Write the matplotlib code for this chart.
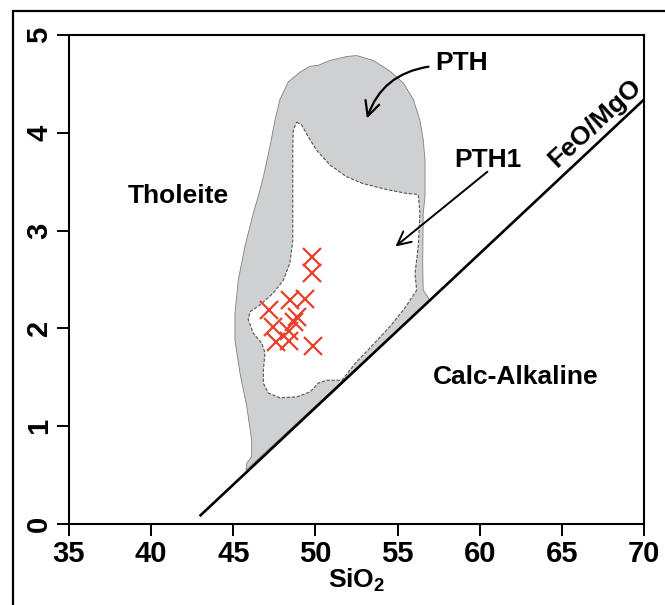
import matplotlib
matplotlib.use("Agg")
import matplotlib.pyplot as plt
from matplotlib.patches import Polygon, Rectangle

plt.rcParams['mathtext.fontset'] = 'custom'
plt.rcParams['mathtext.rm'] = 'Liberation Sans:bold'

# ---------------- data ----------------
# sample points (SiO2, FeO/MgO)
sio2 = [49.79, 49.79, 48.45, 49.36, 47.20, 48.88, 48.69, 47.42, 48.39, 47.60, 48.39, 49.85]
feo_mgo = [2.73, 2.57, 2.29, 2.30, 2.19, 2.12, 2.07, 2.01, 1.97, 1.86, 1.87, 1.82]

# Tholeiite / Calc-alkaline divider (SiO2, FeO/MgO)
div_x = [42.95, 70.0]
div_y = [0.08, 4.34]

# PTH field outline
pth_x = [45.77, 45.82, 46.12, 46.12, 45.82, 45.41, 45.10, 45.10, 45.30, 45.71,
         46.22, 46.52, 46.83, 47.23, 47.54, 47.84, 48.35, 49.06, 49.67, 50.17,
         50.89, 51.90, 52.51, 53.52, 54.54, 55.35, 55.96, 56.36, 56.56, 56.67,
         56.67, 56.56, 56.53, 56.56, 56.97]
pth_y = [0.55, 0.62, 0.69, 0.86, 1.20, 1.54, 1.88, 2.15, 2.49, 2.84,
         3.18, 3.35, 3.55, 3.86, 4.13, 4.34, 4.52, 4.62, 4.68, 4.69,
         4.74, 4.78, 4.79, 4.74, 4.63, 4.51, 4.34, 4.13, 3.93, 3.72,
         3.35, 3.18, 2.67, 2.39, 2.29]

# PTH1 field outline
pth1_x = [48.86, 49.16, 49.56, 50.08, 50.89, 51.90, 52.91, 54.34, 55.55, 56.26,
          56.36, 56.26, 56.06, 56.16, 55.45, 54.54, 53.32, 52.51, 51.80, 51.60,
          50.68, 50.17, 49.67, 48.86, 47.84, 47.13, 46.83, 46.83, 46.93, 46.73,
          46.22, 45.91, 46.02, 46.63, 47.43, 48.04, 48.45, 48.62, 48.62, 48.62,
          48.65]
pth1_y = [4.11, 4.08, 3.96, 3.82, 3.67, 3.55, 3.48, 3.42, 3.38, 3.37,
          3.18, 2.84, 2.56, 2.39, 2.21, 2.02, 1.80, 1.66, 1.51, 1.47,
          1.47, 1.44, 1.35, 1.30, 1.29, 1.34, 1.44, 1.57, 1.75, 1.85,
          1.95, 2.09, 2.17, 2.24, 2.36, 2.49, 2.67, 2.90, 3.31, 3.82,
          4.03]

x_ticks = [35, 40, 45, 50, 55, 60, 65, 70]
y_ticks = [0, 1, 2, 3, 4, 5]

# ---------------- figure ----------------
TICKFONT = ['Liberation Sans', 'DejaVu Sans']
LABFONT = ['Liberation Sans', 'DejaVu Sans']

fig = plt.figure(figsize=(6.65, 6.05), dpi=100)
ax = fig.add_axes([69/665, 1-524/605, (644-69)/665, (524-35)/605])

ax.add_patch(Polygon(list(zip(pth_x, pth_y)), closed=True, facecolor='#cfd0d2',
                     edgecolor='#808080', lw=0.6, zorder=1))
ax.add_patch(Polygon(list(zip(pth1_x, pth1_y)), closed=True, facecolor='white',
                     edgecolor='#555555', lw=0.8, linestyle=(0, (3, 1.5)), zorder=2))

ax.plot(div_x, div_y, color='black', lw=1.9, zorder=3, solid_capstyle='butt')

ax.plot(sio2, feo_mgo, linestyle='none', marker='x', markersize=13,
        markeredgewidth=1.6, color='#e8402a', zorder=4)

ax.set_xlim(35, 70)
ax.set_ylim(0, 5)
ax.set_xticks(x_ticks)
ax.set_yticks(y_ticks)
ax.set_xticklabels([str(v) for v in x_ticks], family=TICKFONT, fontweight='bold', fontsize=21)
ax.set_yticklabels([str(v) for v in y_ticks], family=TICKFONT, fontweight='bold', fontsize=21,
                   rotation=90, va='center')
ax.tick_params(direction='out', length=8.5, width=1.4, pad=3)
for s in ax.spines.values():
    s.set_linewidth(1.5)

ax.set_xlabel(r'$\mathrm{SiO_2}$', fontsize=19, labelpad=-1)

lab = dict(family=LABFONT, fontweight='bold', fontsize=19, ha='center', va='center')
ax.text(58.92, 4.71, 'PTH', **lab)
ax.text(60.5, 3.72, 'PTH1', **lab)
ax.text(41.63, 3.35, 'Tholeite', **lab)
ax.text(62.2, 1.50, 'Calc-Alkaline', **lab)
ax.text(67.0, 4.10, 'FeO/MgO', rotation=43, rotation_mode='anchor', **lab)

ax.annotate('', xy=(53.08, 4.12), xytext=(57.05, 4.68),
            arrowprops=dict(arrowstyle='->', lw=1.6, color='black',
                            connectionstyle='arc3,rad=0.32', mutation_scale=26))
ax.annotate('', xy=(54.74, 2.82), xytext=(60.6, 3.62),
            arrowprops=dict(arrowstyle='->', lw=1.4, color='black', mutation_scale=24))

fig.add_artist(Rectangle((13/665, -0.05), 1.2, 1.05 - 11/605, transform=fig.transFigure,
                         fill=False, lw=1.6, edgecolor='black', clip_on=False))

fig.savefig('out.png', dpi=100)
